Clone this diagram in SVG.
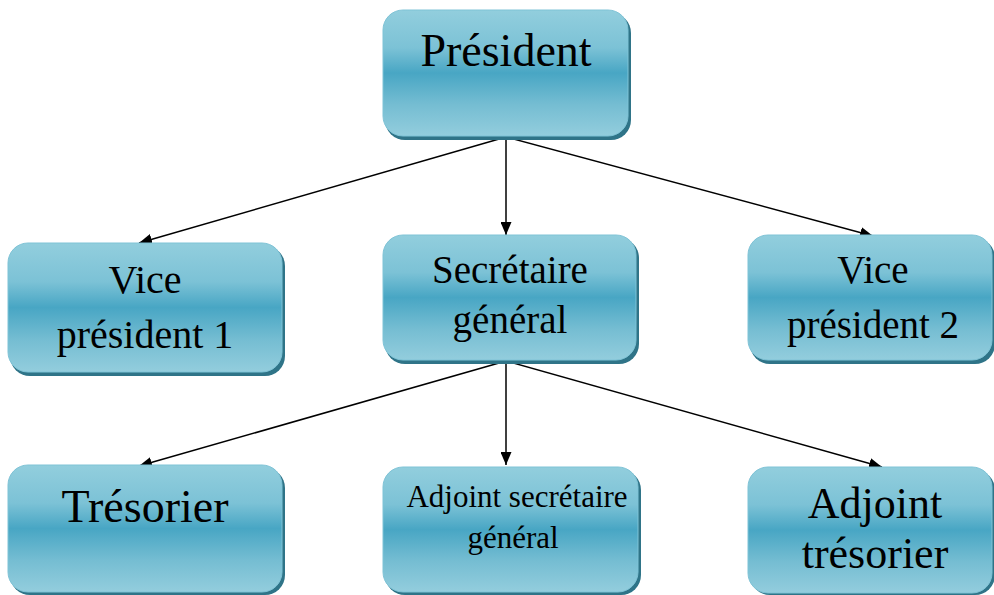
<svg xmlns="http://www.w3.org/2000/svg" width="994" height="595" viewBox="0 0 994 595">
<style>
.sh{fill:#2f7488;}
.bx{fill:url(#g);stroke:#7fc3d6;stroke-width:1;}
.t{font-family:"Liberation Serif","Times New Roman",serif;fill:#000;text-anchor:middle;}
.c{stroke:#000;stroke-width:1.5;fill:none;marker-end:url(#a);}
</style>
<defs>
<linearGradient id="g" x1="0" y1="0" x2="0" y2="1">
<stop offset="0" stop-color="#92cedd"/>
<stop offset="0.3" stop-color="#7cc2d6"/>
<stop offset="0.5" stop-color="#48a6c4"/>
<stop offset="0.75" stop-color="#75bdd2"/>
<stop offset="1" stop-color="#93cddd"/>
</linearGradient>
<marker id="a" viewBox="0 0 13 11" refX="13" refY="5.5" markerWidth="13" markerHeight="11" markerUnits="userSpaceOnUse" orient="auto">
<path d="M0,0 L13,5.5 L0,11 Z" fill="#000"/>
</marker>
</defs>
<rect width="994" height="595" fill="#fff"/>
<g id="connectors">
<line class="c" x1="506" y1="137" x2="139" y2="243"/>
<line class="c" x1="506" y1="137" x2="506" y2="235"/>
<line class="c" x1="506" y1="137" x2="873" y2="236"/>
<line class="c" x1="506" y1="361" x2="139" y2="466"/>
<line class="c" x1="506" y1="361" x2="506" y2="465"/>
<line class="c" x1="506" y1="361" x2="882" y2="467"/>
</g>
<g id="president">
<rect class="sh" x="385" y="13" width="246" height="127" rx="20"/>
<rect class="bx" x="383" y="10" width="245" height="126" rx="20"/>
<text class="t" x="506" y="66" font-size="46">Président</text>
</g>
<g id="vice1">
<rect class="sh" x="10" y="246" width="275" height="130" rx="20"/>
<rect class="bx" x="8" y="243" width="274" height="129" rx="20"/>
<text class="t" x="145" y="293" font-size="40">Vice</text>
<text class="t" x="145" y="348" font-size="40">président 1</text>
</g>
<g id="secretaire">
<rect class="sh" x="385" y="238" width="254" height="126" rx="20"/>
<rect class="bx" x="383" y="235" width="253" height="125" rx="20"/>
<text class="t" x="510" y="283" font-size="39">Secrétaire</text>
<text class="t" x="510" y="333" font-size="39">général</text>
</g>
<g id="vice2">
<rect class="sh" x="750" y="238" width="245" height="126" rx="20"/>
<rect class="bx" x="748" y="235" width="244" height="125" rx="20"/>
<text class="t" x="873" y="283" font-size="39">Vice</text>
<text class="t" x="873" y="338" font-size="39">président 2</text>
</g>
<g id="tresorier">
<rect class="sh" x="10" y="468" width="275" height="127" rx="20"/>
<rect class="bx" x="8" y="465" width="274" height="127" rx="20"/>
<text class="t" x="145" y="522" font-size="46">Trésorier</text>
</g>
<g id="adjoint-secretaire">
<rect class="sh" x="385" y="470" width="256" height="125" rx="20"/>
<rect class="bx" x="383" y="467" width="255" height="125" rx="20"/>
<text class="t" x="517" y="507" font-size="31">Adjoint secrétaire</text>
<text class="t" x="513" y="548" font-size="31">général</text>
</g>
<g id="adjoint-tresorier">
<rect class="sh" x="750" y="470" width="245" height="125" rx="20"/>
<rect class="bx" x="748" y="467" width="244" height="126" rx="20"/>
<text class="t" x="875" y="518" font-size="44">Adjoint</text>
<text class="t" x="875" y="568" font-size="44">trésorier</text>
</g>
</svg>
